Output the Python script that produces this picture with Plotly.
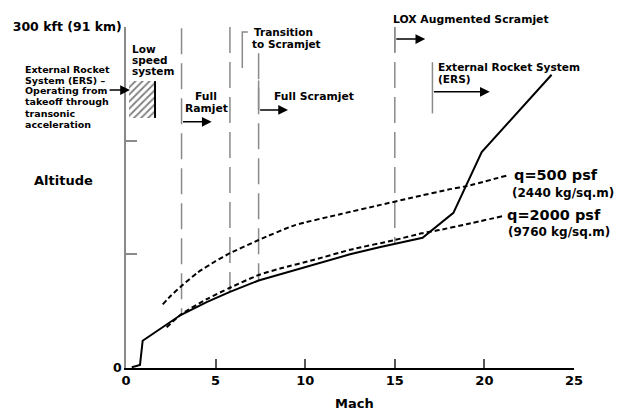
import plotly.graph_objects as go

# ---------------- data ----------------
# Flight trajectory (solid)
traj_mach = [0.32, 0.78, 0.93, 2.0, 3.05, 4.5, 5.8, 7.4, 8.6, 10.45, 12.5, 14.2, 15.0, 16.55, 18.27, 19.85, 23.75]
traj_alt = [0.6, 2.6, 24.0, 35.3, 46.6, 58.0, 67.0, 77.0, 82.5, 91.2, 100.0, 106.5, 109.0, 114.5, 136.5, 190.0, 258.0]

# Dynamic pressure q = 500 psf (dashed)
q500_mach = [2.05, 2.5, 3.05, 4.0, 5.0, 5.8, 7.4, 9.4, 12.0, 14.2, 16.0, 18.0, 19.0, 21.3]
q500_alt = [56.0, 63.5, 71.5, 84.0, 94.0, 101.0, 112.6, 125.5, 135.5, 143.5, 150.0, 157.0, 160.0, 169.5]

# Dynamic pressure q = 2000 psf (dashed)
q2000_mach = [2.27, 3.1, 4.5, 5.8, 7.4, 8.6, 10.45, 12.5, 15.0, 16.5, 17.5, 19.0, 21.0]
q2000_alt = [35.8, 47.5, 60.5, 70.6, 81.8, 87.5, 95.0, 104.0, 112.6, 118.5, 121.4, 126.5, 133.5]

# Propulsion-mode boundaries (dashed verticals)
boundary_mach = [3.1, 5.8, 7.4, 15.0]
boundary_top = [299.0, 300.0, 277.0, 300.0]
boundary_bottom = [47.0, 67.0, 77.0, 109.0]

# Mode arrows: start Mach, end Mach, altitude
arrow_start = [3.1, 7.4, 15.0, 17.1, -1.0]
arrow_end = [4.78, 9.04, 16.7, 20.3, 0.22]
arrow_alt = [216.6, 227.0, 289.4, 243.0, 244.5]

# Low-speed ERS zone (hatched)
ers_zone_mach = [0.17, 1.62]
ers_zone_alt = [220.0, 252.4]

x_ticks = [0, 5, 10, 15, 20, 25]
y_ticks = [0, 100, 200, 300]
y_ticktext = ["0", "", "", "300 kft (91 km)"]

# ---------------- figure ----------------
W, H = 619, 411
L, R, T, B = 126, 45, 27, 43
FONT = "DejaVu Sans"
GRAY = "#8a8a8a"


def pxx(xp):
    return (xp - L) / (W - L - R)


def pxy(yp):
    return (H - B - yp) / (H - T - B)


fig = go.Figure()

# hatched ERS zone
fig.add_trace(go.Scatter(
    x=[ers_zone_mach[0], ers_zone_mach[1], ers_zone_mach[1], ers_zone_mach[0], ers_zone_mach[0]],
    y=[ers_zone_alt[0], ers_zone_alt[0], ers_zone_alt[1], ers_zone_alt[1], ers_zone_alt[0]],
    mode="lines", fill="toself", fillcolor="rgba(0,0,0,0)",
    fillpattern=dict(shape="/", fgcolor="black", bgcolor="white", size=5, solidity=0.35),
    line=dict(width=0, color="rgba(0,0,0,0)"), hoverinfo="skip", showlegend=False))
fig.add_trace(go.Scatter(
    x=[ers_zone_mach[1], ers_zone_mach[1]], y=ers_zone_alt,
    mode="lines", line=dict(color="black", width=2), showlegend=False, hoverinfo="skip"))

# dashed boundary lines
for m, top, bot in zip(boundary_mach, boundary_top, boundary_bottom):
    fig.add_trace(go.Scatter(
        x=[m, m], y=[top, bot], mode="lines",
        line=dict(color=GRAY, width=1.5, dash="26px,9px"),
        showlegend=False, hoverinfo="skip"))

# solid brackets
# Transition to Scramjet bracket
fig.add_trace(go.Scatter(x=[6.8, 6.49, 6.49], y=[295.6, 295.6, 264.0], mode="lines",
                         line=dict(color=GRAY, width=1.5), showlegend=False, hoverinfo="skip"))
# Full Scramjet bracket
fig.add_trace(go.Scatter(x=[boundary_mach[2], boundary_mach[2]], y=[253.0, arrow_alt[1]], mode="lines",
                         line=dict(color=GRAY, width=1.5), showlegend=False, hoverinfo="skip"))
# LOX bracket (solid top of the Mach 15 line)
fig.add_trace(go.Scatter(x=[boundary_mach[3], boundary_mach[3]], y=[300.0, 278.0], mode="lines",
                         line=dict(color=GRAY, width=1.5), showlegend=False, hoverinfo="skip"))
# ERS bracket
fig.add_trace(go.Scatter(x=[arrow_start[3], arrow_start[3]], y=[269.0, 224.0], mode="lines",
                         line=dict(color=GRAY, width=1.5), showlegend=False, hoverinfo="skip"))

# q curves
fig.add_trace(go.Scatter(x=q500_mach, y=q500_alt, mode="lines",
                         line=dict(color="black", width=2, dash="5px,3px", shape="spline", smoothing=0.6),
                         showlegend=False, hoverinfo="skip"))
fig.add_trace(go.Scatter(x=q2000_mach, y=q2000_alt, mode="lines",
                         line=dict(color="black", width=2, dash="5px,3px", shape="spline", smoothing=0.6),
                         showlegend=False, hoverinfo="skip"))
# trajectory
fig.add_trace(go.Scatter(x=traj_mach, y=traj_alt, mode="lines",
                         line=dict(color="black", width=2),
                         showlegend=False, hoverinfo="skip"))

annotations = []

# arrows
for s, e, a in zip(arrow_start, arrow_end, arrow_alt):
    annotations.append(dict(
        x=e, y=a, ax=s, ay=a, xref="x", yref="y", axref="x", ayref="y",
        text="", showarrow=True, arrowhead=2, arrowsize=1.3, arrowwidth=1.5,
        arrowcolor="black", standoff=0, startstandoff=0))

# text labels: (text, left px, center-y px, size)
labels = [
    ("Low", 130, 49, 10.5), ("speed", 130, 60, 10.5), ("system", 130, 71, 10.5),
    ("External Rocket", 22.7, 69.3, 9.5), ("System (ERS) –", 22.7, 80, 9.5),
    ("Operating from", 22.7, 90.7, 9.5), ("takeoff through", 22.7, 101.7, 9.5),
    ("transonic", 22.7, 113, 9.5), ("acceleration", 22.7, 124.5, 9.5),
    ("Full", 192.7, 96, 10.8), ("Ramjet", 183.3, 108.3, 10.8),
    ("Transition", 251.7, 32.3, 10.5), ("to Scramjet", 250, 43.6, 10.5),
    ("Full Scramjet", 271.7, 96.7, 10.8),
    ("LOX Augmented Scramjet", 391, 19, 10.8),
    ("External Rocket System", 436, 66.7, 10.6), ("(ERS)", 436, 78.6, 10.6),
    ("q=500 psf", 511.7, 175, 14.5), ("(2440 kg/sq.m)", 510, 192.7, 12),
    ("q=2000 psf", 505, 215, 14.5), ("(9760 kg/sq.m)", 506, 231.7, 12),
    ("Altitude", 31.7, 180.7, 13),
]
for txt, xp, yp, sz in labels:
    annotations.append(dict(
        text="<b>" + txt + "</b>", x=pxx(xp), y=pxy(yp), xref="paper", yref="paper",
        xanchor="left", yanchor="middle", showarrow=False,
        font=dict(family=FONT, size=sz, color="black")))

# x-axis title
annotations.append(dict(text="<b>Mach</b>", x=pxx(354), y=pxy(404), xref="paper", yref="paper",
                        xanchor="center", yanchor="middle", showarrow=False,
                        font=dict(family=FONT, size=13, color="black")))

fig.update_layout(
    width=W, height=H, autosize=False,
    margin=dict(l=L, r=R, t=T, b=B, pad=0),
    paper_bgcolor="white", plot_bgcolor="white",
    showlegend=False,
    annotations=annotations,
    xaxis=dict(range=[0, 25], showgrid=False, zeroline=False,
               showline=True, linecolor="black", linewidth=1.5,
               ticks="inside", ticklen=9, tickwidth=1.5, tickcolor="#555555",
               tickvals=x_ticks, ticktext=["<b>%d</b>" % v for v in x_ticks],
               tickfont=dict(family=FONT, size=13, color="black")),
    yaxis=dict(range=[0, 300], showgrid=False, zeroline=False,
               showline=True, linecolor=GRAY, linewidth=1.5,
               ticks="inside", ticklen=11, tickwidth=1.5, tickcolor=GRAY,
               tickvals=y_ticks, ticktext=["<b>%s</b>" % t if t else "" for t in y_ticktext],
               tickfont=dict(family=FONT, size=12.5, color="black")),
)

fig.write_html("out.html", config={"displayModeBar": False},
               post_script="document.body.style.margin='0px';document.body.style.overflow='hidden';")
